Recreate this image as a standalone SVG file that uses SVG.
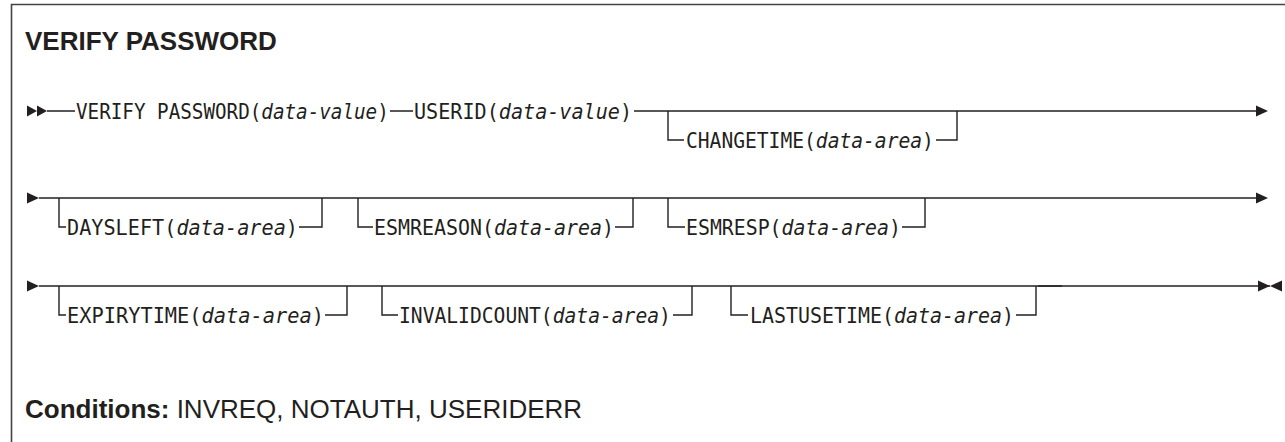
<svg xmlns="http://www.w3.org/2000/svg" width="1285" height="442" viewBox="0 0 1285 442">
<style>
.ln{fill:none;stroke:#231f20;stroke-width:1.4}
.mono{font-family:"DejaVu Sans Mono","Liberation Mono",monospace;font-size:22px;fill:#231f20}
.it{font-style:italic}
.ttl{font-family:"Liberation Sans",Arial,sans-serif;font-weight:bold;font-size:26px;fill:#231f20}
.cond{font-family:"Liberation Sans",Arial,sans-serif;font-size:26px;fill:#231f20}
.tri{fill:#231f20}
</style>
<rect width="1285" height="442" fill="#fff"/>
<path d="M11.5,442 V4.5 H1285" fill="none" stroke="#444" stroke-width="1.6"/>
<text class="ttl" x="25" y="50">VERIFY PASSWORD</text>

<g id="connectors">
<!-- row 1 -->
<polygon class="tri" points="27,105.5 37,111 27,116.5"/>
<polygon class="tri" points="37,105.5 47,111 37,116.5"/>
<path class="ln" d="M47,111 H75 M390,111 H413 M634,111 H1260"/>
<polygon class="tri" points="1256,105.5 1268,111 1256,116.5"/>
<path class="ln" d="M668,111 V140 H684 M936,140 H957 V111"/>
<!-- row 2 -->
<polygon class="tri" points="27,192.5 39,198 27,203.5"/>
<path class="ln" d="M39,198 H1260"/>
<polygon class="tri" points="1256,192.5 1268,198 1256,203.5"/>
<path class="ln" d="M59,198 V227 H66 M299,227 H322 V198"/>
<path class="ln" d="M358,198 V227 H373 M615,227 H633 V198"/>
<path class="ln" d="M668,198 V227 H685 M902,227 H925 V198"/>
<!-- row 3 -->
<polygon class="tri" points="27,280.5 39,286 27,291.5"/>
<path class="ln" d="M39,286 H1270"/>
<path class="ln" d="M1038,286 H1062" stroke-width="2.6"/>
<polygon class="tri" points="1258,280.5 1270,286 1258,291.5"/>
<polygon class="tri" points="1282,280.5 1270,286 1282,291.5"/>
<path class="ln" d="M59,286 V315 H66 M325,315 H347 V286"/>
<path class="ln" d="M382,286 V315 H398 M673,315 H692 V286"/>
<path class="ln" d="M731,286 V315 H748 M1016,315 H1036 V286"/>
</g>

<g id="n-verify"><text class="mono" transform="matrix(0.8753 0 0 1 76 119)">VERIFY PASSWORD(<tspan class="it">data-value</tspan>)</text></g>
<g id="n-userid"><text class="mono" transform="matrix(0.9145 0 0 1 414 119)">USERID(<tspan class="it">data-value</tspan>)</text></g>
<g id="n-changetime"><text class="mono" transform="matrix(0.8917 0 0 1 686 148)">CHANGETIME(<tspan class="it">data-area</tspan>)</text></g>

<g id="n-daysleft"><text class="mono" transform="matrix(0.918 0 0 1 67 235)">DAYSLEFT(<tspan class="it">data-area</tspan>)</text></g>
<g id="n-esmreason"><text class="mono" transform="matrix(0.906 0 0 1 374 235)">ESMREASON(<tspan class="it">data-area</tspan>)</text></g>
<g id="n-esmresp"><text class="mono" transform="matrix(0.902 0 0 1 686 235)">ESMRESP(<tspan class="it">data-area</tspan>)</text></g>

<g id="n-expirytime"><text class="mono" transform="matrix(0.924 0 0 1 67 323)">EXPIRYTIME(<tspan class="it">data-area</tspan>)</text></g>
<g id="n-invalidcount"><text class="mono" transform="matrix(0.893 0 0 1 399 323)">INVALIDCOUNT(<tspan class="it">data-area</tspan>)</text></g>
<g id="n-lastusetime"><text class="mono" transform="matrix(0.906 0 0 1 750 323)">LASTUSETIME(<tspan class="it">data-area</tspan>)</text></g>

<text class="cond" x="25" y="418"><tspan font-weight="bold">Conditions:</tspan> INVREQ, NOTAUTH, USERIDERR</text>
</svg>
